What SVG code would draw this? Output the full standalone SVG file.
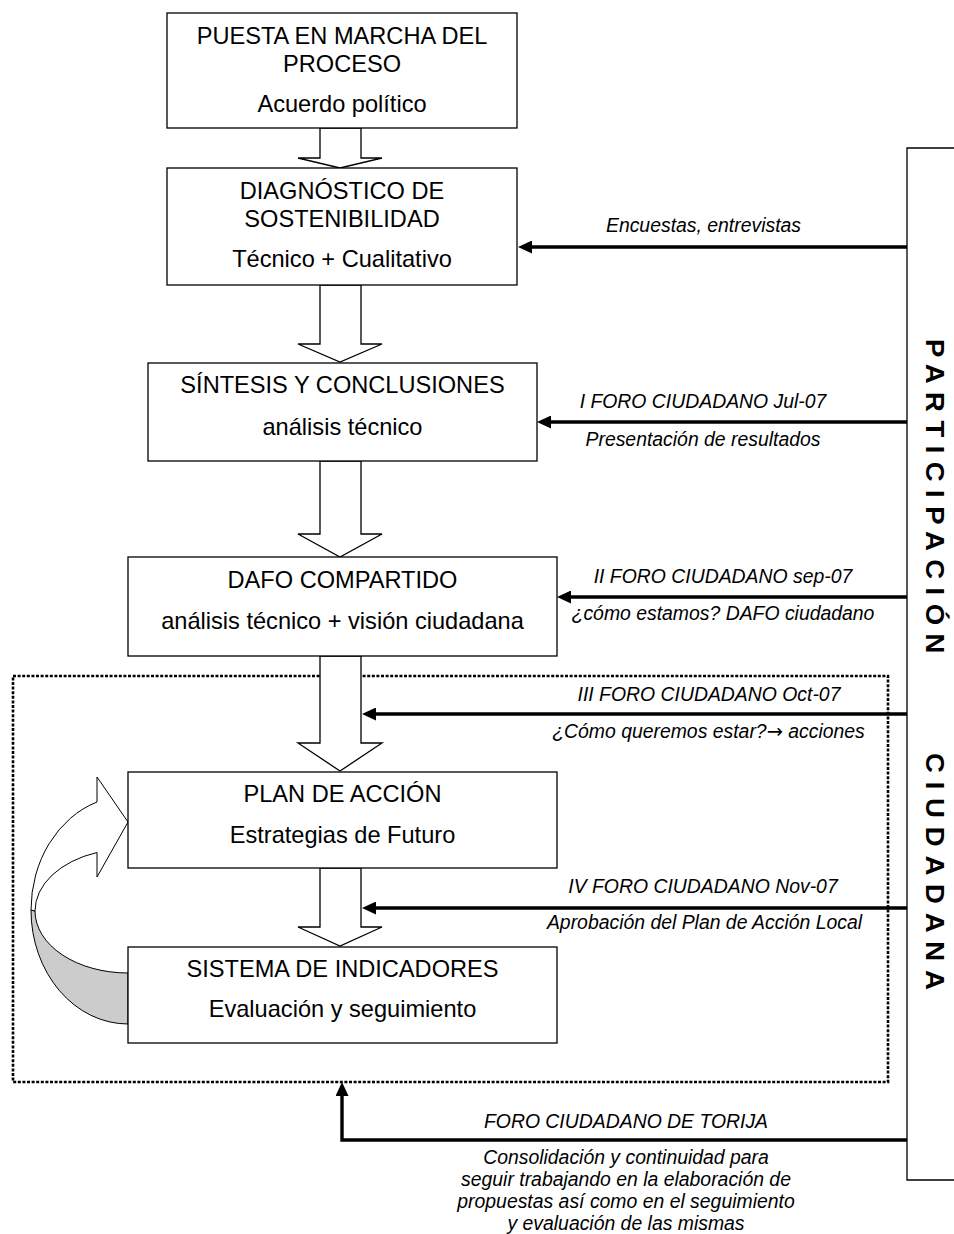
<svg xmlns="http://www.w3.org/2000/svg" width="954" height="1234" viewBox="0 0 954 1234">
<style>
  .box { fill: #fff; stroke: #000; stroke-width: 1.3; }
  .blk { fill: #fff; stroke: #000; stroke-width: 1.3; stroke-linejoin: miter; }
  .t { font-family: "Liberation Sans", Arial, sans-serif; font-size: 23.6px; fill: #000; text-anchor: middle; }
  .lbl { font-family: "Liberation Sans", Arial, sans-serif; font-size: 19.4px; font-style: italic; fill: #000; text-anchor: middle; }
  .sym { font-family: "DejaVu Sans", sans-serif; font-style: normal; }
  .conn { fill: none; stroke: #000; stroke-width: 3.4; marker-end: url(#ah); }
  .vert { font-family: "Liberation Sans", Arial, sans-serif; font-size: 25px; font-weight: bold; fill: #000; }
</style>
<defs>
  <marker id="ah" viewBox="0 0 14 13" markerWidth="14" markerHeight="13" refX="2" refY="6.5" orient="auto" markerUnits="userSpaceOnUse">
    <path d="M0,0 L14,6.5 L0,13 Z" fill="#000"/>
  </marker>
</defs>
<rect width="954" height="1234" fill="#fff"/>

<!-- participation bracket and dotted group frame -->
<g id="participacion">
  <path d="M954,148 L907,148 L907,1180 L954,1180" fill="none" stroke="#000" stroke-width="1.3"/>
  <text class="vert" transform="translate(926,339) rotate(90) scale(1.1,1)" letter-spacing="7.7">PARTICIPACIÓN</text>
  <text class="vert" transform="translate(926,753) rotate(90) scale(1.1,1)" letter-spacing="8">CIUDADANA</text>
</g>
<g id="grupo">
  <rect x="13" y="676" width="875" height="406" fill="none" stroke="#000" stroke-width="2.6" stroke-dasharray="3 1.6"/>
</g>

<!-- block arrows between stages -->
<g id="flechas">
  <polygon class="blk" points="320,128 361,128 361,158 382,158 340,168 298,158 320,158"/>
  <polygon class="blk" points="320,285 361,285 361,344 382,344 340,362 298,344 320,344"/>
  <polygon class="blk" points="320,461 361,461 361,534 382,534 340,557 298,534 320,534"/>
  <polygon class="blk" points="320,656 361,656 361,743 382,743 340,771 298,743 320,743"/>
  <polygon class="blk" points="320,868 361,868 361,927 382,927 340,946 298,927 320,927"/>
</g>

<!-- curved feedback arrow -->
<g id="retroalimentacion">
  <path d="M31,910 A97,114 0 0 0 128,1024 L128,973 A93,62 0 0 1 35,911 Z" fill="#cccccc" stroke="#000" stroke-width="1"/>
  <path d="M97,802 A97,114 0 0 0 31,910 L35,911 A93,62 0 0 1 97,852.5 L97,877 L128,822 L97,777 Z" fill="#fff" stroke="#000" stroke-width="1"/>
</g>

<!-- nodes -->
<g id="puesta">
  <rect class="box" x="167" y="13" width="350" height="115"/>
  <text class="t" x="342" y="44">PUESTA EN MARCHA DEL</text>
  <text class="t" x="342" y="72">PROCESO</text>
  <text class="t" x="342" y="112">Acuerdo político</text>
</g>
<g id="diagnostico">
  <rect class="box" x="167" y="168" width="350" height="117"/>
  <text class="t" x="342" y="199">DIAGNÓSTICO DE</text>
  <text class="t" x="342" y="227">SOSTENIBILIDAD</text>
  <text class="t" x="342" y="267">Técnico + Cualitativo</text>
</g>
<g id="sintesis">
  <rect class="box" x="148" y="363" width="389" height="98"/>
  <text class="t" x="342.5" y="393">SÍNTESIS Y CONCLUSIONES</text>
  <text class="t" x="342.5" y="435">análisis técnico</text>
</g>
<g id="dafo">
  <rect class="box" x="128" y="557" width="429" height="99"/>
  <text class="t" x="342.5" y="588">DAFO COMPARTIDO</text>
  <text class="t" x="342.5" y="629">análisis técnico + visión ciudadana</text>
</g>
<g id="plan">
  <rect class="box" x="128" y="772" width="429" height="96"/>
  <text class="t" x="342.5" y="802">PLAN DE ACCIÓN</text>
  <text class="t" x="342.5" y="843">Estrategias de Futuro</text>
</g>
<g id="indicadores">
  <rect class="box" x="128" y="947" width="429" height="96"/>
  <text class="t" x="342.5" y="977">SISTEMA DE INDICADORES</text>
  <text class="t" x="342.5" y="1017">Evaluación y seguimiento</text>
</g>

<!-- participation connectors -->
<g id="conectores">
  <line class="conn" x1="907" y1="247" x2="530" y2="247"/>
  <line class="conn" x1="907" y1="422" x2="549" y2="422"/>
  <line class="conn" x1="907" y1="597" x2="569" y2="597"/>
  <line class="conn" x1="907" y1="714" x2="374" y2="714"/>
  <line class="conn" x1="907" y1="908" x2="374" y2="908"/>
  <polyline class="conn" points="907,1140 342,1140 342,1094"/>
</g>

<g id="etiquetas">
  <text class="lbl" x="703.5" y="232">Encuestas, entrevistas</text>
  <text class="lbl" x="703" y="408">I FORO CIUDADANO Jul-07</text>
  <text class="lbl" x="703" y="446">Presentación de resultados</text>
  <text class="lbl" x="723" y="583">II FORO CIUDADANO sep-07</text>
  <text class="lbl" x="723" y="620">¿cómo estamos? DAFO ciudadano</text>
  <text class="lbl" x="709" y="701">III FORO CIUDADANO Oct-07</text>
  <text class="lbl" x="708.5" y="738">¿Cómo queremos estar?<tspan class="sym">→</tspan> acciones</text>
  <text class="lbl" x="703" y="893">IV FORO CIUDADANO Nov-07</text>
  <text class="lbl" x="704.5" y="929">Aprobación del Plan de Acción Local</text>
  <text class="lbl" x="626" y="1128">FORO CIUDADANO DE TORIJA</text>
  <text class="lbl" x="626" y="1164">Consolidación y continuidad para</text>
  <text class="lbl" x="626" y="1186">seguir trabajando en la elaboración de</text>
  <text class="lbl" x="626" y="1208">propuestas así como en el seguimiento</text>
  <text class="lbl" x="626" y="1229.5">y evaluación de las mismas</text>
</g>
</svg>
